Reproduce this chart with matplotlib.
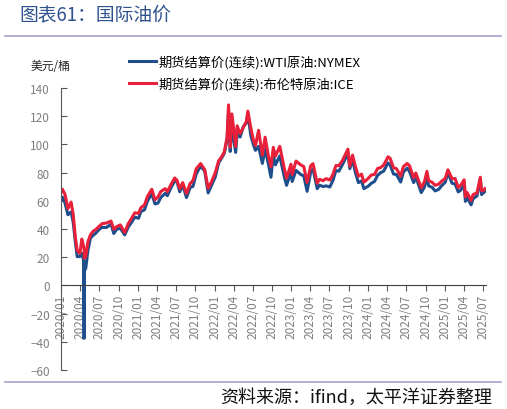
import pandas as pd
import numpy as np
import matplotlib.pyplot as plt
import matplotlib.dates as mdates

plt.rcParams['font.family'] = ['Noto Sans CJK SC', 'DejaVu Sans']

# settlement prices (USD/bbl)
dates = ['2020-01-02', '2020-01-07', '2020-01-20', '2020-02-03', '2020-02-18', '2020-02-28',
         '2020-03-09', '2020-03-18', '2020-03-31', '2020-04-09', '2020-04-17', '2020-04-20',
         '2020-04-21', '2020-04-28', '2020-05-08', '2020-05-20', '2020-06-01', '2020-06-15',
         '2020-07-01', '2020-07-15', '2020-08-03', '2020-08-26', '2020-09-08', '2020-09-22',
         '2020-10-09', '2020-10-30', '2020-11-16', '2020-12-01', '2020-12-17', '2021-01-04',
         '2021-01-15', '2021-02-01', '2021-02-16', '2021-03-08', '2021-03-23', '2021-04-06',
         '2021-04-20', '2021-05-11', '2021-05-21', '2021-06-07', '2021-06-25', '2021-07-06',
         '2021-07-19', '2021-08-02', '2021-08-20', '2021-09-06', '2021-09-20', '2021-10-05',
         '2021-10-26', '2021-11-15', '2021-12-01', '2021-12-17', '2022-01-04', '2022-01-20',
         '2022-02-03', '2022-02-16', '2022-03-01', '2022-03-08', '2022-03-16', '2022-03-24',
         '2022-04-11', '2022-04-18', '2022-05-02', '2022-05-17', '2022-06-01', '2022-06-08',
         '2022-06-22', '2022-07-05', '2022-07-14', '2022-07-29', '2022-08-16', '2022-08-29',
         '2022-09-15', '2022-09-26', '2022-10-07', '2022-10-17', '2022-11-07', '2022-11-28',
         '2022-12-09', '2022-12-30', '2023-01-05', '2023-01-23', '2023-02-15', '2023-03-01',
         '2023-03-17', '2023-04-03', '2023-04-14', '2023-05-04', '2023-05-15', '2023-06-01',
         '2023-06-15', '2023-07-03', '2023-07-17', '2023-08-01', '2023-08-15', '2023-09-01',
         '2023-09-27', '2023-10-06', '2023-10-19', '2023-11-01', '2023-11-16', '2023-12-01',
         '2023-12-12', '2024-01-02', '2024-01-16', '2024-02-01', '2024-02-15', '2024-03-01',
         '2024-03-15', '2024-04-05', '2024-04-15', '2024-05-01', '2024-05-15', '2024-06-04',
         '2024-06-17', '2024-07-05', '2024-07-16', '2024-08-05', '2024-08-15', '2024-09-10',
         '2024-09-25', '2024-10-07', '2024-10-15', '2024-11-01', '2024-11-15', '2024-12-02',
         '2024-12-16', '2025-01-02', '2025-01-15', '2025-02-03', '2025-02-18', '2025-03-05',
         '2025-03-17', '2025-04-02', '2025-04-08', '2025-04-16', '2025-05-05', '2025-05-15',
         '2025-06-02', '2025-06-18', '2025-06-24', '2025-07-01', '2025-07-10']

wti = [61.2, 62.7, 58.5, 50.1, 52.1, 44.8,
       31.1, 20.4, 20.5, 22.8, 18.3, -37.6,
       10.0, 12.3, 24.7, 33.5, 35.4, 37.1,
       39.8, 41.2, 41.0, 43.4, 36.8, 39.8,
       40.6, 35.8, 41.3, 44.6, 48.4, 47.6,
       52.4, 53.6, 60.0, 65.0, 57.8, 58.3,
       62.4, 65.3, 63.6, 69.2, 74.1, 73.4,
       66.4, 71.3, 62.3, 69.3, 70.3, 78.9,
       84.7, 80.9, 65.6, 70.9, 76.9, 86.9,
       90.3, 93.7, 103.4, 123.7, 95.0, 112.3,
       94.3, 108.2, 105.2, 112.4, 115.3, 122.1,
       106.2, 99.5, 95.8, 98.6, 86.5, 97.0,
       85.1, 76.7, 92.6, 85.5, 91.8, 77.2,
       71.0, 80.3, 73.7, 81.6, 78.6, 77.7,
       66.7, 80.4, 82.5, 68.6, 71.1, 70.1,
       70.6, 69.8, 74.2, 81.4, 81.0, 85.6,
       93.7, 82.8, 89.4, 80.4, 72.9, 74.1,
       68.6, 70.4, 72.4, 73.8, 78.0, 80.0,
       81.0, 86.9, 85.4, 79.0, 78.6, 73.3,
       80.3, 83.2, 80.8, 72.9, 77.0, 65.8,
       69.7, 77.1, 70.6, 69.5, 67.0, 68.1,
       70.7, 73.1, 80.0, 72.5, 71.9, 66.3,
       67.6, 71.7, 59.6, 62.5, 57.1, 61.6,
       63.4, 75.1, 64.4, 65.5, 66.6]

brent = [66.3, 68.3, 64.6, 54.5, 59.1, 50.5,
         34.4, 24.9, 22.7, 32.8, 28.1, 25.6,
         19.3, 20.5, 30.9, 35.8, 38.3, 39.7,
         42.0, 43.8, 44.2, 45.6, 39.8, 41.7,
         42.9, 37.5, 43.8, 47.4, 51.5, 51.1,
         55.1, 57.0, 63.3, 68.2, 60.8, 62.7,
         66.6, 68.6, 66.4, 71.5, 76.2, 74.5,
         68.6, 72.9, 65.2, 72.2, 74.4, 82.6,
         86.4, 82.1, 68.9, 73.5, 80.0, 88.4,
         91.1, 94.8, 104.9, 128.0, 98.0, 121.6,
         98.5, 113.2, 107.6, 111.9, 116.3, 123.6,
         111.7, 102.8, 99.1, 110.0, 92.3, 105.1,
         90.8, 84.1, 97.9, 91.6, 98.6, 83.2,
         76.1, 85.9, 78.7, 88.2, 85.4, 84.3,
         73.0, 84.9, 86.3, 72.5, 75.2, 74.3,
         75.7, 74.7, 78.5, 85.0, 84.9, 88.6,
         96.6, 84.6, 92.4, 84.6, 77.4, 78.9,
         73.2, 75.9, 78.3, 78.7, 82.9, 83.6,
         85.3, 91.2, 90.1, 83.4, 82.8, 77.5,
         84.3, 86.5, 84.9, 76.3, 79.7, 69.2,
         73.5, 80.9, 74.3, 73.1, 71.0, 71.8,
         73.9, 75.9, 82.0, 75.7, 75.8, 69.3,
         71.1, 74.9, 62.8, 65.9, 60.2, 64.5,
         65.6, 76.7, 67.1, 67.1, 68.6]

x_ticks = pd.date_range('2020-01-01', '2025-07-01', freq='QS')
y_ticks = np.arange(-60, 141, 20)

dt = pd.to_datetime(dates)

fig = plt.figure(figsize=(5.07, 4.10), dpi=100)
ax = fig.add_axes([61 / 507, 1 - 371 / 410, (486 - 61) / 507, (371 - 89) / 410])

ax.plot(dt, wti, color='#1F4E8C', lw=2.2, label='期货结算价(连续):WTI原油:NYMEX')
ax.plot(dt, brent, color='#E8203A', lw=2.2, label='期货结算价(连续):布伦特原油:ICE')

ax.set_ylim(-60, 140)
ax.set_xlim(pd.Timestamp('2020-01-01'), pd.Timestamp('2025-07-15'))
ax.set_yticks(y_ticks)
ax.set_xticks(x_ticks)
ax.xaxis.set_major_formatter(mdates.DateFormatter('%Y/%m'))

ax.spines['top'].set_visible(False)
ax.spines['right'].set_visible(False)
ax.spines['bottom'].set_position(('data', 0))
ax.spines['bottom'].set_color('#404040')
ax.spines['left'].set_color('#595959')
ax.tick_params(axis='y', direction='in', length=4, colors='#595959', labelsize=8.5, pad=8)
ax.tick_params(axis='x', direction='out', length=4, colors='#595959', labelsize=8.5,
               labelrotation=90, pad=2)
for lab in ax.get_xticklabels():
    lab.set_color('#7F7F7F')
for lab in ax.get_yticklabels():
    lab.set_color('#7F7F7F')

ax.legend(loc='upper left', bbox_to_anchor=(0.148, 1.135), frameon=False, fontsize=9.5,
          handlelength=2.0, handletextpad=0.25, labelspacing=0.62, borderaxespad=0)

fig.text(19 / 507, 1 - 15 / 410, '图表61：国际油价', color='#2F528F', fontsize=13.5,
         va='center', ha='left')
fig.add_artist(plt.Line2D([5 / 507, 501 / 507], [1 - 37 / 410] * 2, color='#A3A3CC', lw=1.2))
fig.add_artist(plt.Line2D([5 / 507, 501 / 507], [1 - 383 / 410] * 2, color='#A3A3CC', lw=1.2))
fig.text(31 / 507, 1 - 66 / 410, '美元/桶', fontsize=8.5, color='#262626', va='center')
fig.text(492 / 507, 1 - 398 / 410, '资料来源：ifind，太平洋证券整理', fontsize=13,
         style='italic', ha='right', va='center', color='#111111')

fig.savefig('out.png', dpi=100)
